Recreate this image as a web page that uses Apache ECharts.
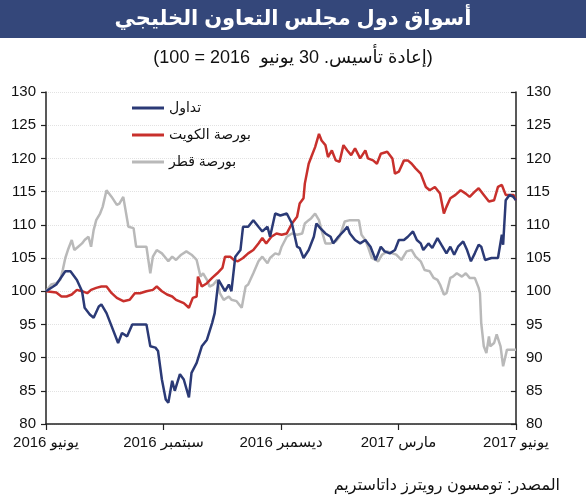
<!DOCTYPE html>
<html dir="rtl" lang="ar">
<head>
<meta charset="utf-8">
<script src="https://cdn.jsdelivr.net/npm/echarts@6/dist/echarts.min.js"></script>
<style>
  html, body { margin: 0; padding: 0; background: #fff; }
  #chart { width: 586px; height: 500px; }
</style>
</head>
<body>
<div id="chart"></div>
<script>
// days counted from 30 June 2016
const tickLabels = ['يونيو 2016', 'سبتمبر 2016', 'ديسمبر 2016', 'مارس 2017', 'يونيو 2017'];
const seriesNames = ['تداول', 'بورصة الكويت', 'بورصة قطر'];

const tadawulDays = [0, 8, 15, 19, 24, 28, 30, 34, 37, 41, 43, 47, 51, 56, 59, 63, 67, 70, 78, 81, 85, 87, 90, 93, 95, 98, 100, 104, 107, 111, 113, 117, 121, 125, 129, 131, 134, 137, 139, 142, 144, 147, 151, 153, 157, 161, 165, 168, 172, 174, 178, 182, 187, 191, 195, 197, 200, 204, 208, 210, 213, 217, 221, 223, 227, 231, 234, 236, 240, 244, 248, 252, 256, 260, 263, 267, 271, 274, 278, 281, 285, 288, 291, 293, 297, 300, 304, 307, 311, 314, 317, 320, 324, 327, 330, 333, 336, 338, 341, 346, 351, 354, 355, 357, 360, 363, 365];
const tadawulValues = [100, 101, 103, 103, 101.7, 100, 97.5, 96.5, 96, 97.7, 98, 96.7, 94.7, 92.2, 93.7, 93.2, 95, 95, 95, 91.7, 91.5, 91, 86.7, 83.7, 83.2, 86.5, 85, 87.5, 86.7, 84, 87.7, 89.2, 91.7, 92.7, 95.2, 96.7, 101.7, 100.7, 100, 101, 100, 105.2, 106.2, 109.7, 109.7, 110.7, 109.7, 109, 109.7, 108.2, 111.7, 111.4, 111.7, 110.2, 106.7, 106.5, 105, 106.2, 108.2, 110.2, 109.5, 108.7, 108.2, 107.2, 108.2, 109, 109.7, 108.7, 107.7, 107.2, 107.7, 106.7, 104.7, 106.7, 106, 105.7, 106.2, 107.7, 107.7, 108.2, 109, 107.7, 107.2, 106.2, 107.2, 106.5, 108, 107, 105.7, 106.7, 105.5, 106.7, 107.5, 106.2, 104.5, 105.7, 107, 106.7, 104.7, 105, 105, 108.5, 107, 113.7, 114.5, 114.2, 113.7];

const kuwaitDays = [0, 8, 12, 16, 20, 24, 28, 32, 35, 39, 43, 47, 51, 55, 60, 65, 69, 73, 78, 83, 86, 90, 94, 98, 101, 107, 111, 114, 117, 118, 121, 125, 129, 133, 137, 139, 143, 146, 149, 153, 157, 161, 165, 168, 171, 175, 179, 183, 187, 191, 195, 197, 200, 201, 204, 206, 209, 212, 214, 217, 219, 222, 225, 228, 231, 234, 237, 240, 244, 248, 250, 254, 257, 260, 265, 269, 271, 274, 278, 281, 284, 287, 291, 295, 298, 302, 306, 309, 311, 314, 318, 322, 326, 329, 333, 336, 340, 344, 348, 351, 354, 357, 360, 363, 365];
const kuwaitValues = [100, 99.8, 99.2, 99.2, 99.5, 100.2, 100, 99.7, 100.2, 100.5, 100.7, 100.7, 99.7, 99, 98.5, 98.7, 99.7, 99.7, 100, 100.2, 100.7, 100, 99.5, 99.2, 98.7, 98.2, 97.5, 99, 99.2, 102.2, 100.7, 101.2, 102, 102.7, 103.5, 105.2, 105.2, 104.7, 104.5, 105, 105.7, 106.2, 107.2, 108, 107.2, 108.2, 108.7, 108.5, 108.7, 110.2, 111.2, 113.2, 114, 116.2, 119.2, 120.2, 121.7, 123.7, 122.7, 122, 120.2, 121.2, 119.7, 119.5, 122, 121.2, 120.5, 121.5, 120, 121.2, 120, 119.7, 119.2, 120.7, 121, 120, 117.7, 118, 119.7, 119.7, 119.2, 118.5, 117.7, 115.7, 115.2, 115.7, 114.7, 111.7, 112.7, 114, 114.5, 115.2, 114.7, 114.2, 115, 115.5, 114.5, 113.5, 113.7, 115.7, 116, 114.5, 114.5, 114.5, 113.7];

const qatarDays = [0, 4, 8, 11, 13, 15, 17, 20, 22, 25, 28, 30, 33, 35, 37, 39, 42, 44, 47, 48, 51, 55, 57, 60, 61, 64, 68, 70, 74, 78, 81, 83, 86, 90, 93, 95, 98, 101, 105, 109, 113, 117, 120, 122, 125, 127, 130, 133, 135, 138, 142, 144, 148, 152, 155, 157, 161, 165, 168, 172, 174, 178, 181, 183, 187, 191, 195, 199, 201, 204, 206, 209, 212, 214, 217, 221, 225, 228, 232, 236, 240, 243, 245, 248, 250, 253, 256, 258, 261, 265, 269, 272, 276, 280, 284, 287, 291, 294, 298, 301, 304, 306, 309, 311, 314, 316, 319, 323, 326, 329, 333, 336, 337, 338, 340, 342, 344, 345, 348, 350, 353, 355, 358, 360, 365];
const qatarValues = [100, 101, 101.2, 101.7, 103.2, 105, 106.2, 107.7, 106.2, 106.7, 107.2, 107.7, 108.2, 106.7, 109.2, 110.7, 111.7, 112.7, 115.2, 115.5, 114.2, 113, 113.2, 114.2, 114.5, 109.7, 109.5, 106.7, 106.7, 106.7, 102.7, 105.2, 106.2, 105.7, 105, 104.5, 105.2, 104.7, 105.5, 106, 105.5, 104.7, 102.2, 102.7, 101.7, 100.7, 101, 101.7, 99.7, 98.7, 99.2, 98.7, 98.5, 97.5, 100.7, 101, 102.7, 104.5, 105.2, 104.2, 105, 105.7, 105.5, 106.7, 108.2, 108.7, 108.5, 108.7, 110.2, 110.7, 111, 111.7, 110.7, 109.2, 107.2, 107.2, 107.5, 108.2, 110.5, 110.7, 110.7, 110.7, 108.5, 107.7, 106.7, 105, 104.7, 104.5, 105.5, 106, 105.7, 105.5, 104.7, 106, 106.2, 105.2, 104.5, 103.2, 103, 102, 101.7, 101, 99.5, 99.7, 102, 102.2, 102.7, 102.2, 102.7, 102, 102, 100.5, 99.7, 95.2, 91.7, 90.7, 93.2, 91.7, 92.2, 93.5, 91.7, 88.7, 91.2, 91.2, 91.2];

const colors = ['#2b3a76', '#c8302c', '#b9b9b9'];
const FONT = "'Liberation Sans', 'DejaVu Sans', sans-serif";
const quarter = 91.25;

function toPoints(days, values) {
    return days.map((d, i) => [d, values[i]]);
}

const chart = echarts.init(document.getElementById('chart'));

const yAxisBase = {
    type: 'value',
    min: 80,
    max: 130,
    interval: 5,
    axisLine: { show: true, lineStyle: { color: '#222', width: 1.5 } },
    axisTick: { show: true, length: 5, lineStyle: { color: '#222', width: 1.2 } },
    axisLabel: { color: '#111', fontSize: 15, fontFamily: FONT }
};

chart.setOption({
    animation: false,
    textStyle: { fontFamily: FONT },
    graphic: [
        {
            type: 'rect',
            shape: { x: 0, y: 0, width: 586, height: 38 },
            style: { fill: '#34477a' },
            silent: true
        },
        {
            type: 'text',
            x: 293, y: 19,
            style: {
                text: 'أسواق دول مجلس التعاون الخليجي',
                fill: '#fff', font: 'bold 21px ' + FONT,
                textAlign: 'center', textVerticalAlign: 'middle'
            }
        },
        {
            type: 'text',
            x: 293, y: 58,
            style: {
                text: '(إعادة تأسيس. 30 يونيو  2016 = 100)',
                fill: '#111', font: '18px ' + FONT,
                textAlign: 'center', textVerticalAlign: 'middle'
            }
        },
        {
            type: 'text',
            x: 560, y: 486,
            style: {
                text: 'المصدر: تومسون رويترز داتاستريم',
                fill: '#111', font: '16px ' + FONT,
                textAlign: 'right', textVerticalAlign: 'middle'
            }
        }
    ],
    legend: {
        orient: 'vertical',
        left: 127,
        top: 96,
        itemGap: 13,
        itemWidth: 32,
        itemHeight: 3,
        icon: 'rect',
        data: seriesNames,
        textStyle: { fontSize: 14, color: '#111', fontFamily: FONT }
    },
    grid: { left: 46, right: 70, top: 92, bottom: 76 },
    xAxis: {
        type: 'value',
        min: 0,
        max: 365,
        interval: quarter,
        axisLine: { lineStyle: { color: '#222', width: 1.5 } },
        axisTick: { show: true, length: 6, lineStyle: { color: '#222', width: 1.2 } },
        splitLine: { show: false },
        axisLabel: {
            color: '#111', fontSize: 15, margin: 11, fontFamily: FONT,
            formatter: v => tickLabels[Math.round(v / quarter)] || ''
        }
    },
    yAxis: [
        Object.assign({}, yAxisBase, {
            position: 'left',
            axisLabel: Object.assign({}, yAxisBase.axisLabel, { margin: 10 }),
            splitLine: { show: true, lineStyle: { color: '#e2e2e2', type: 'dotted', width: 1 } }
        }),
        Object.assign({}, yAxisBase, {
            position: 'right',
            axisTick: Object.assign({}, yAxisBase.axisTick, { inside: true }),
            axisLabel: Object.assign({}, yAxisBase.axisLabel, { margin: 10 }),
            splitLine: { show: false }
        })
    ],
    series: [
        {
            name: seriesNames[2], type: 'line', showSymbol: false,
            data: toPoints(qatarDays, qatarValues),
            lineStyle: { color: colors[2], width: 2.5 }, itemStyle: { color: colors[2] }
        },
        {
            name: seriesNames[1], type: 'line', showSymbol: false,
            data: toPoints(kuwaitDays, kuwaitValues),
            lineStyle: { color: colors[1], width: 2.5 }, itemStyle: { color: colors[1] }
        },
        {
            name: seriesNames[0], type: 'line', showSymbol: false,
            data: toPoints(tadawulDays, tadawulValues),
            lineStyle: { color: colors[0], width: 2.5 }, itemStyle: { color: colors[0] }
        }
    ]
});
</script>
</body>
</html>
